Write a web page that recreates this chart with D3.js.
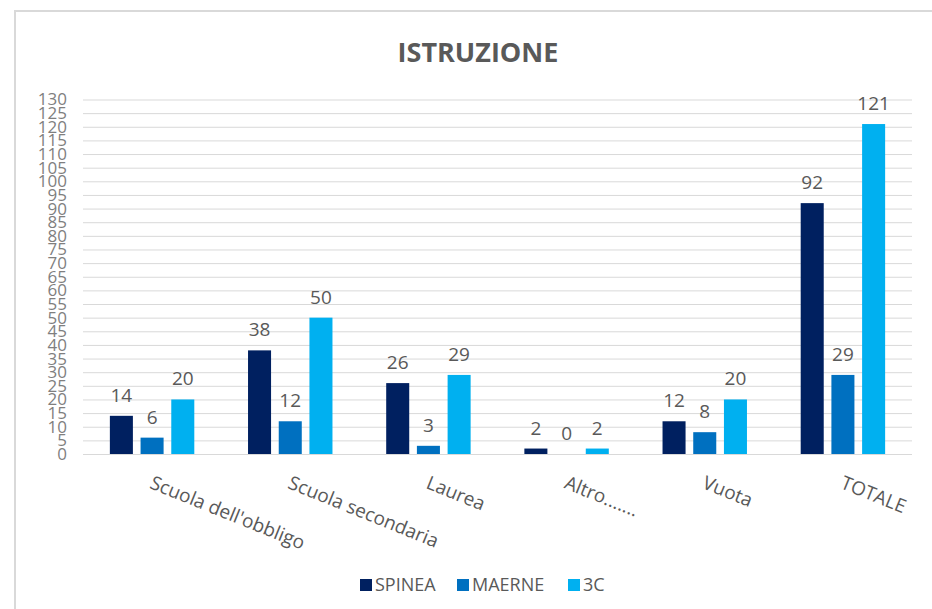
<!DOCTYPE html>
<html>
<head>
<meta charset="utf-8">
<script src="https://cdn.jsdelivr.net/npm/d3@7"></script>
<style>
  body { margin: 0; background: #ffffff; }
  svg { display: block; font-family: "Open Sans", "DejaVu Sans", sans-serif; }
</style>
</head>
<body>
<div id="chart"></div>
<script>
const categories = ["Scuola dell'obbligo", "Scuola secondaria", "Laurea", "Altro.......", "Vuota", "TOTALE"];
const seriesNames = ["SPINEA", "MAERNE", "3C"];
const spinea = [14, 38, 26, 2, 12, 92];
const maerne = [6, 12, 3, 0, 8, 29];
const tre_c = [20, 50, 29, 2, 20, 121];
const yTicks = d3.range(0, 131, 5);

const seriesValues = [spinea, maerne, tre_c];
const colors = ["#002060", "#0070C0", "#00B0F0"];

const width = 932, height = 609;
const margin = { top: 99.5, right: 20, bottom: 155, left: 83 };
const plotRight = 912;
const textColor = "#595959";

const svg = d3.select("#chart").append("svg")
  .attr("width", width)
  .attr("height", height);

// chart area frame (only top/left visible in view)
svg.append("path")
  .attr("d", `M15,${height + 5} L15,11 L${width + 5},11`)
  .attr("fill", "none")
  .attr("stroke", "#d9d9d9")
  .attr("stroke-width", 2);

svg.append("text")
  .attr("x", 478)
  .attr("y", 62)
  .attr("text-anchor", "middle")
  .style("font-size", "27px")
  .style("font-weight", "bold")
  .style("fill", textColor)
  .text("ISTRUZIONE");

const x0 = d3.scaleBand()
  .domain(categories)
  .range([margin.left, plotRight])
  .padding(0);

const x1 = d3.scaleBand()
  .domain(seriesNames)
  .range([0, x0.bandwidth()])
  .paddingInner(0.25)
  .paddingOuter(0.875);

const y = d3.scaleLinear()
  .domain([0, 130])
  .range([454, margin.top]);

const yAxis = d3.axisLeft(y)
  .tickValues(yTicks)
  .tickSize(-(plotRight - margin.left))
  .tickPadding(16)
  .tickFormat(d3.format("d"));

svg.append("g")
  .attr("class", "y-axis")
  .attr("transform", `translate(${margin.left},0)`)
  .call(yAxis)
  .call(g => g.select(".domain").remove())
  .call(g => g.selectAll(".tick line").attr("stroke", "#d9d9d9").attr("stroke-width", 1))
  .call(g => g.selectAll(".tick text")
    .style("font-size", "17px")
    .style("font-family", "'Open Sans', sans-serif")
    .attr("fill", "#7f7f7f"));

const rows = categories.map((c, i) => ({
  category: c,
  values: seriesNames.map((s, j) => ({ series: s, value: seriesValues[j][i], color: colors[j] }))
}));

const groups = svg.append("g").selectAll("g")
  .data(rows)
  .join("g")
  .attr("transform", d => `translate(${x0(d.category)},0)`);

groups.selectAll("rect")
  .data(d => d.values)
  .join("rect")
  .attr("x", d => x1(d.series))
  .attr("y", d => y(d.value))
  .attr("width", x1.bandwidth())
  .attr("height", d => Math.max(0, y(0) - y(d.value)))
  .attr("fill", d => d.color);

groups.selectAll("text.value-label")
  .data(d => d.values)
  .join("text")
  .attr("class", "value-label")
  .attr("x", d => x1(d.series) + x1.bandwidth() / 2)
  .attr("y", d => y(d.value) - 14)
  .attr("text-anchor", "middle")
  .style("font-size", "19px")
  .style("fill", textColor)
  .text(d => d.value);

// x axis labels, rotated
svg.append("g").selectAll("text")
  .data(categories)
  .join("text")
  .attr("transform", d => `translate(${x0(d) + x0.bandwidth() / 2 + 3},472) rotate(22)`)
  .attr("text-anchor", "start")
  .attr("dy", "0.9em")
  .style("font-size", "19px")
  .style("fill", textColor)
  .text(d => d);

// legend
const legendX = [360, 457, 568];
const legend = svg.append("g").selectAll("g")
  .data(seriesNames)
  .join("g")
  .attr("transform", (d, i) => `translate(${legendX[i]},585)`);

legend.append("rect")
  .attr("x", 0)
  .attr("y", -6)
  .attr("width", 12)
  .attr("height", 12)
  .attr("fill", (d, i) => colors[i]);

legend.append("text")
  .attr("x", 15)
  .attr("y", 0)
  .attr("dy", "0.35em")
  .style("font-size", "18px")
  .style("fill", textColor)
  .text(d => d);
</script>
</body>
</html>
